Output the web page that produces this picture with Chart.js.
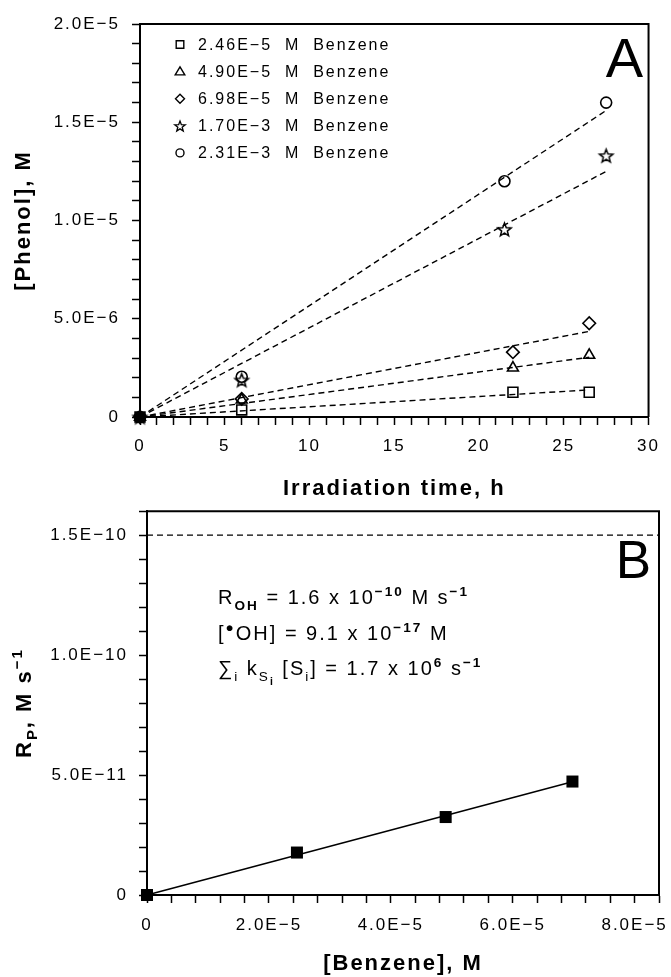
<!DOCTYPE html>
<html>
<head>
<meta charset="utf-8">
<script src="https://cdn.jsdelivr.net/npm/chart.js"></script>
<style>
  html, body { margin: 0; padding: 0; background: #fff; }
  body { width: 671px; height: 977px; position: relative; overflow: hidden; }
  canvas { position: absolute; left: 0; }
  #chartA { top: 0; }
  #chartB { top: 490px; }
</style>
</head>
<body>
<canvas id="chartA" width="671" height="510"></canvas>
<canvas id="chartB" width="671" height="487"></canvas>
<script>
const FONT = '"Liberation Sans", Arial, Helvetica, sans-serif';

// ---- Panel A : phenol vs irradiation time ----
const TIME_SHORT = [0, 6, 22, 26.5];
const TIME_LONG = [0, 6, 21.5, 27.5];
const PHENOL_246 = [0, 0.36e-6, 1.26e-6, 1.26e-6];
const PHENOL_490 = [0, 0.87e-6, 2.5e-6, 3.15e-6];
const PHENOL_698 = [0, 0.92e-6, 3.3e-6, 4.77e-6];
const PHENOL_1700 = [0, 1.88e-6, 9.55e-6, 13.3e-6];
const PHENOL_2310 = [0, 2.05e-6, 12.0e-6, 16.0e-6];

// dashed fits (start / end of each line)
const FIT_X_SHORT = [0, 26.5];
const FIT_X_LONG = [0, 27.5];
const FIT_246 = [0, 1.38e-6];
const FIT_490 = [0, 3.04e-6];
const FIT_698 = [0, 4.36e-6];
const FIT_1700 = [0, 12.5e-6];
const FIT_2310 = [0, 15.6e-6];

const A_LEGEND = [
  '2.46E−5  M  Benzene',
  '4.90E−5  M  Benzene',
  '6.98E−5  M  Benzene',
  '1.70E−3  M  Benzene',
  '2.31E−3  M  Benzene'
];
const A_X_TICKS = ['0', '5', '10', '15', '20', '25', '30'];
const A_Y_TICKS = ['0', '5.0E−6', '1.0E−5', '1.5E−5', '2.0E−5'];

// ---- Panel B : rate vs benzene ----
const BENZENE = [0, 2.46e-5, 4.90e-5, 6.98e-5];
const RATE_P = [0, 1.77e-11, 3.25e-11, 4.73e-11];
const RATE_FIT_X = [0, 6.98e-5];
const RATE_FIT = [0, 4.72e-11];
const R_OH_X = [0, 8.4e-5];
const R_OH = [1.5e-10, 1.5e-10];
const B_X_TICKS = ['0', '2.0E−5', '4.0E−5', '6.0E−5', '8.0E−5'];
const B_Y_TICKS = ['0', '5.0E−11', '1.0E−10', '1.5E−10'];

const pts = (xs, ys) => xs.map((x, i) => ({ x, y: ys[i] }));

function tickLabels(minor, every, labels) {
  return (value) => {
    const k = Math.round(value / minor);
    if (k % every !== 0) return '';
    return labels[k / every] ?? '';
  };
}

function starCanvas(outer, inner, lw) {
  const s = Math.ceil(outer * 2 + lw * 2 + 2);
  const c = document.createElement('canvas');
  c.width = c.height = s;
  const g = c.getContext('2d');
  const cx = s / 2, cy = s / 2 + outer * 0.1;
  g.beginPath();
  for (let i = 0; i < 10; i++) {
    const r = i % 2 ? inner : outer;
    const a = -Math.PI / 2 + i * Math.PI / 5;
    g.lineTo(cx + r * Math.cos(a), cy + r * Math.sin(a));
  }
  g.closePath();
  g.lineWidth = lw;
  g.strokeStyle = '#000';
  g.stroke();
  return c;
}

const STAR = starCanvas(7, 3, 1.5);
const STAR_SMALL = starCanvas(5.5, 2.3, 1.3);

// letter spacing kept on the context for ticks and titles
const spacing = {
  id: 'spacing',
  beforeLayout(chart) { chart.ctx.letterSpacing = '2px'; },
  beforeDraw(chart) { chart.ctx.letterSpacing = '2px'; }
};

const frame = {
  id: 'frame',
  afterDraw(chart) {
    const { ctx, chartArea: a } = chart;
    ctx.save();
    ctx.strokeStyle = '#000';
    ctx.lineWidth = 2;
    ctx.beginPath();
    ctx.moveTo(a.left, a.top);
    ctx.lineTo(a.right, a.top);
    ctx.lineTo(a.right, a.bottom);
    ctx.stroke();
    ctx.restore();
  }
};

function bigLetter(text, x, y, size) {
  return {
    id: 'letter' + text,
    afterDraw(chart) {
      const ctx = chart.ctx;
      ctx.save();
      ctx.letterSpacing = '0px';
      ctx.fillStyle = '#000';
      ctx.font = `${size}px ${FONT}`;
      ctx.textAlign = 'right';
      ctx.textBaseline = 'alphabetic';
      ctx.fillText(text, x, y);
      ctx.restore();
    }
  };
}

function legendMarker(ctx, style, x, y) {
  ctx.beginPath();
  if (style === 'rect') {
    ctx.rect(x - 3.8, y - 3.8, 7.6, 7.6);
  } else if (style === 'triangle') {
    ctx.moveTo(x, y - 4.8);
    ctx.lineTo(x + 4.8, y + 3.3);
    ctx.lineTo(x - 4.8, y + 3.3);
    ctx.closePath();
  } else if (style === 'rectRot') {
    ctx.moveTo(x, y - 4.5);
    ctx.lineTo(x + 4.5, y);
    ctx.lineTo(x, y + 4.5);
    ctx.lineTo(x - 4.5, y);
    ctx.closePath();
  } else if (style === 'circle') {
    ctx.arc(x, y, 4, 0, Math.PI * 2);
  }
  if (style === 'star') {
    ctx.drawImage(STAR_SMALL, Math.round(x - STAR_SMALL.width / 2), Math.round(y - STAR_SMALL.height / 2));
  } else {
    ctx.stroke();
  }
}

const legendA = {
  id: 'legendA',
  afterDraw(chart) {
    const ctx = chart.ctx;
    const styles = ['rect', 'triangle', 'rectRot', 'star', 'circle'];
    ctx.save();
    ctx.letterSpacing = '2px';
    ctx.font = `16px ${FONT}`;
    ctx.fillStyle = '#000';
    ctx.strokeStyle = '#000';
    ctx.lineWidth = 1.4;
    ctx.textBaseline = 'middle';
    A_LEGEND.forEach((label, i) => {
      const y = 44.5 + i * 27.1;
      legendMarker(ctx, styles[i], 180, y);
      ctx.fillText(label, 198, y + 1);
    });
    ctx.restore();
  }
};

// parts: [text, kind, weight] kind 0 normal, 1 sub, 2 sup, 3 sub of sub
function richWidth(ctx, parts, size, weight) {
  let w = 0;
  for (const [t, k, b] of parts) {
    const fs = k === 0 ? size : k === 3 ? size * 0.52 : size * 0.68;
    ctx.font = `${b || weight || ''} ${fs}px ${FONT}`;
    w += ctx.measureText(t).width;
  }
  return w;
}
function drawRich(ctx, x, y, parts, size, weight) {
  let cx = x;
  for (const [t, k, b] of parts) {
    const fs = k === 0 ? size : k === 3 ? size * 0.52 : size * 0.68;
    const dy = k === 1 ? size * 0.28 : k === 2 ? -size * 0.42 : k === 3 ? size * 0.5 : 0;
    ctx.font = `${b || weight || ''} ${fs}px ${FONT}`;
    ctx.fillText(t, cx, y + dy);
    cx += ctx.measureText(t).width;
  }
  return cx;
}

const B_TEXT_LINES = [
  [['R', 0], ['OH', 1, 'bold'], [' = 1.6 x 10', 0], ['−10', 2, 'bold'], [' M s', 0], ['−1', 2, 'bold']],
  [['[', 0], ['●', 2], ['OH] = 9.1 x 10', 0], ['−17', 2, 'bold'], [' M', 0]],
  [['∑', 0], ['i', 1], [' k', 0], ['S', 1], ['i', 3, 'bold'], [' [S', 0], ['i', 1], ['] = 1.7 x 10', 0], ['6', 2, 'bold'], [' s', 0], ['−1', 2, 'bold']]
];
const B_Y_TITLE = [['R', 0], ['P', 1], [', M s', 0], ['−1', 2]];

const textB = {
  id: 'textB',
  afterDraw(chart) {
    const ctx = chart.ctx;
    const a = chart.chartArea;
    ctx.save();
    ctx.fillStyle = '#000';
    ctx.textAlign = 'left';
    ctx.textBaseline = 'alphabetic';
    ctx.letterSpacing = '2px';
    const bases = [114, 150, 185];
    B_TEXT_LINES.forEach((parts, i) => drawRich(ctx, 218, bases[i], parts, 20));
    // rotated y title
    const w = richWidth(ctx, B_Y_TITLE, 22, 'bold');
    ctx.translate(31, (a.top + a.bottom) / 2);
    ctx.rotate(-Math.PI / 2);
    drawRich(ctx, -w / 2, 0, B_Y_TITLE, 22, 'bold');
    ctx.restore();
  }
};

function axisStyle() {
  return {
    type: 'linear',
    border: { display: true, color: '#000', width: 2 },
    grid: { display: true, drawOnChartArea: false, drawTicks: true, tickLength: 8, tickWidth: 1.5, tickColor: '#000' }
  };
}

const markerBase = { showLine: false, pointBorderColor: '#000', pointBackgroundColor: 'rgba(0,0,0,0)', pointBorderWidth: 1.6, clip: false, order: 0 };
const fitBase = { showLine: true, pointRadius: 0, borderColor: '#000', borderWidth: 1.4, borderDash: [6, 4], clip: false, order: 1 };

new Chart(document.getElementById('chartA'), {
  type: 'scatter',
  data: {
    datasets: [
      { ...markerBase, data: pts(TIME_SHORT, PHENOL_246), pointStyle: 'rect', pointRadius: 7,
        pointBackgroundColor: (c) => c.dataIndex === 0 ? '#000' : 'rgba(0,0,0,0)' },
      { ...markerBase, data: pts(TIME_SHORT, PHENOL_490), pointStyle: 'triangle', pointRadius: 6.3 },
      { ...markerBase, data: pts(TIME_SHORT, PHENOL_698), pointStyle: 'rectRot', pointRadius: 6.3 },
      { ...markerBase, data: pts(TIME_LONG, PHENOL_1700), pointStyle: STAR, pointRadius: 7 },
      { ...markerBase, data: pts(TIME_LONG, PHENOL_2310), pointStyle: 'circle', pointRadius: 5.5 },
      { ...fitBase, data: pts(FIT_X_SHORT, FIT_246) },
      { ...fitBase, data: pts(FIT_X_SHORT, FIT_490) },
      { ...fitBase, data: pts(FIT_X_SHORT, FIT_698) },
      { ...fitBase, data: pts(FIT_X_LONG, FIT_1700) },
      { ...fitBase, data: pts(FIT_X_LONG, FIT_2310) }
    ]
  },
  options: {
    responsive: false,
    animation: false,
    events: [],
    layout: { padding: { left: 0, top: 24, right: 17, bottom: 0 } },
    plugins: { legend: { display: false }, tooltip: { enabled: false } },
    scales: {
      x: {
        ...axisStyle(),
        min: 0, max: 30,
        afterFit: (s) => { s.height = 93; },
        ticks: { stepSize: 1, autoSkip: false, maxRotation: 0, padding: 11, color: '#000',
          font: { family: FONT, size: 17 }, callback: tickLabels(1, 5, A_X_TICKS) },
        title: { display: true, text: 'Irradiation time, h', color: '#000',
          font: { family: FONT, size: 22, weight: 'bold' }, padding: { top: 0, bottom: 8 } }
      },
      y: {
        ...axisStyle(),
        min: 0, max: 2e-5,
        afterFit: (s) => { s.width = 140; },
        ticks: { stepSize: 1e-6, autoSkip: false, padding: 12, color: '#000',
          font: { family: FONT, size: 17 }, callback: tickLabels(1e-6, 5, A_Y_TICKS) },
        title: { display: true, text: '[Phenol], M', color: '#000',
          font: { family: FONT, size: 22, weight: 'bold' }, padding: { top: 11, bottom: 0 } }
      }
    }
  },
  plugins: [spacing, frame, legendA, bigLetter('A', 643, 77, 56)]
});

new Chart(document.getElementById('chartB'), {
  type: 'scatter',
  data: {
    datasets: [
      { showLine: false, data: pts(BENZENE, RATE_P), pointStyle: 'rect', pointRadius: 8.5,
        pointBackgroundColor: '#000', pointBorderColor: '#000', pointBorderWidth: 0, clip: false, order: 0 },
      { showLine: true, data: pts(RATE_FIT_X, RATE_FIT), pointRadius: 0, borderColor: '#000', borderWidth: 1.5, clip: false, order: 1 },
      { showLine: true, data: pts(R_OH_X, R_OH), pointRadius: 0, borderColor: '#000', borderWidth: 1.3, borderDash: [6, 4], clip: false, order: 1 }
    ]
  },
  options: {
    responsive: false,
    animation: false,
    events: [],
    layout: { padding: { left: 0, top: 10, right: 10, bottom: 0 } },
    plugins: { legend: { display: false }, tooltip: { enabled: false } },
    scales: {
      x: {
        ...axisStyle(),
        min: 0, max: 8.4e-5,
        afterFit: (s) => { s.height = 82; },
        ticks: { stepSize: 4e-6, autoSkip: false, maxRotation: 0, padding: 12, color: '#000',
          font: { family: FONT, size: 17 }, callback: tickLabels(4e-6, 5, B_X_TICKS) },
        title: { display: true, text: '[Benzene], M', color: '#000',
          font: { family: FONT, size: 22, weight: 'bold' }, padding: { top: 0, bottom: 0 } }
      },
      y: {
        ...axisStyle(),
        min: 0, max: 1.6e-10,
        afterFit: (s) => { s.width = 147; },
        ticks: { stepSize: 1e-11, autoSkip: false, padding: 11, color: '#000',
          font: { family: FONT, size: 17 }, callback: tickLabels(1e-11, 5, B_Y_TICKS) },
        title: { display: false }
      }
    }
  },
  plugins: [spacing, frame, textB, bigLetter('B', 651, 88, 53)]
});
</script>
</body>
</html>
